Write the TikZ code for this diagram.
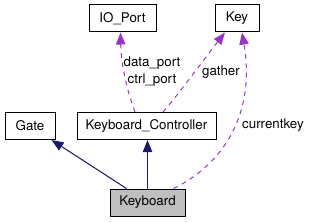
\documentclass[tikz,border=0pt]{standalone}
\usepackage{fontspec}
\setmainfont{TeX Gyre Heros}
\usetikzlibrary{arrows.meta, positioning, calc}

\begin{document}
\begin{tikzpicture}[
    x=0.75pt, y=-0.75pt,
    cls/.style={draw=black, line width=0.75pt, inner sep=0pt, minimum height=20.25pt, font=\fontsize{10}{12}\selectfont},
    lbl/.style={inner sep=0pt, font=\fontsize{10}{12}\selectfont},
    inh/.style={-{Triangle[length=9pt, width=7pt]}, draw=navyblue, fill=navyblue, line width=0.75pt},
    usg/.style={-{Triangle[length=9pt, width=7pt]}, draw=usepurple, line width=0.75pt, dash pattern=on 3.5pt off 3.5pt}
]
\definecolor{navyblue}{HTML}{191970}
\definecolor{usepurple}{HTML}{9A32CD}
\useasboundingbox (0,0) rectangle (309,221);
% Class boxes, centred at pixel positions of the diagram
\node[cls, minimum width=50.25pt]  (iop)  at (122.5,18.5) {IO\_Port};
\node[cls, minimum width=33pt]     (key)  at (237,18.5)   {Key};
\node[cls, minimum width=37.5pt]   (gate) at (30,126)     {Gate};
\node[cls, minimum width=104.25pt] (kbc)  at (146.5,126)  {Keyboard\_Controller};
\node[cls, minimum width=56.25pt, fill=black!25] (kbd) at (147.5,202.5) {Keyboard};
% Inheritance: Keyboard derives from Gate and Keyboard_Controller
\draw[inh] ($(kbd.north)+(-21,0)$) -- ($(gate.south east)+(-4,0)$);
\draw[inh] (kbd.north) -- (kbd.north |- kbc.south);
% Usage relations (members pointing to other classes)
\draw[usg] ($(kbc.north)+(-11.5,0)$) .. controls (126,88) and (121,62) .. ($(iop.south)+(-2,0)$);
\draw[usg] ($(kbc.north)+(16.5,0)$) .. controls (178,95) and (205,58) .. ($(key.south)+(-12,0)$);
\draw[usg] ($(kbd.north)+(26,0)$) .. controls (222,165) and (256,115) .. ($(key.south)+(5,0)$);
% Member names
\node[lbl] (ldata) at (152,63)  {data\_port};
\node[lbl] (lctrl) at (152,80)  {ctrl\_port};
\node[lbl] (lgath) at (221,72)  {gather};
\node[lbl] (lcurr) at (273,125) {currentkey};
\end{tikzpicture}
\end{document}
